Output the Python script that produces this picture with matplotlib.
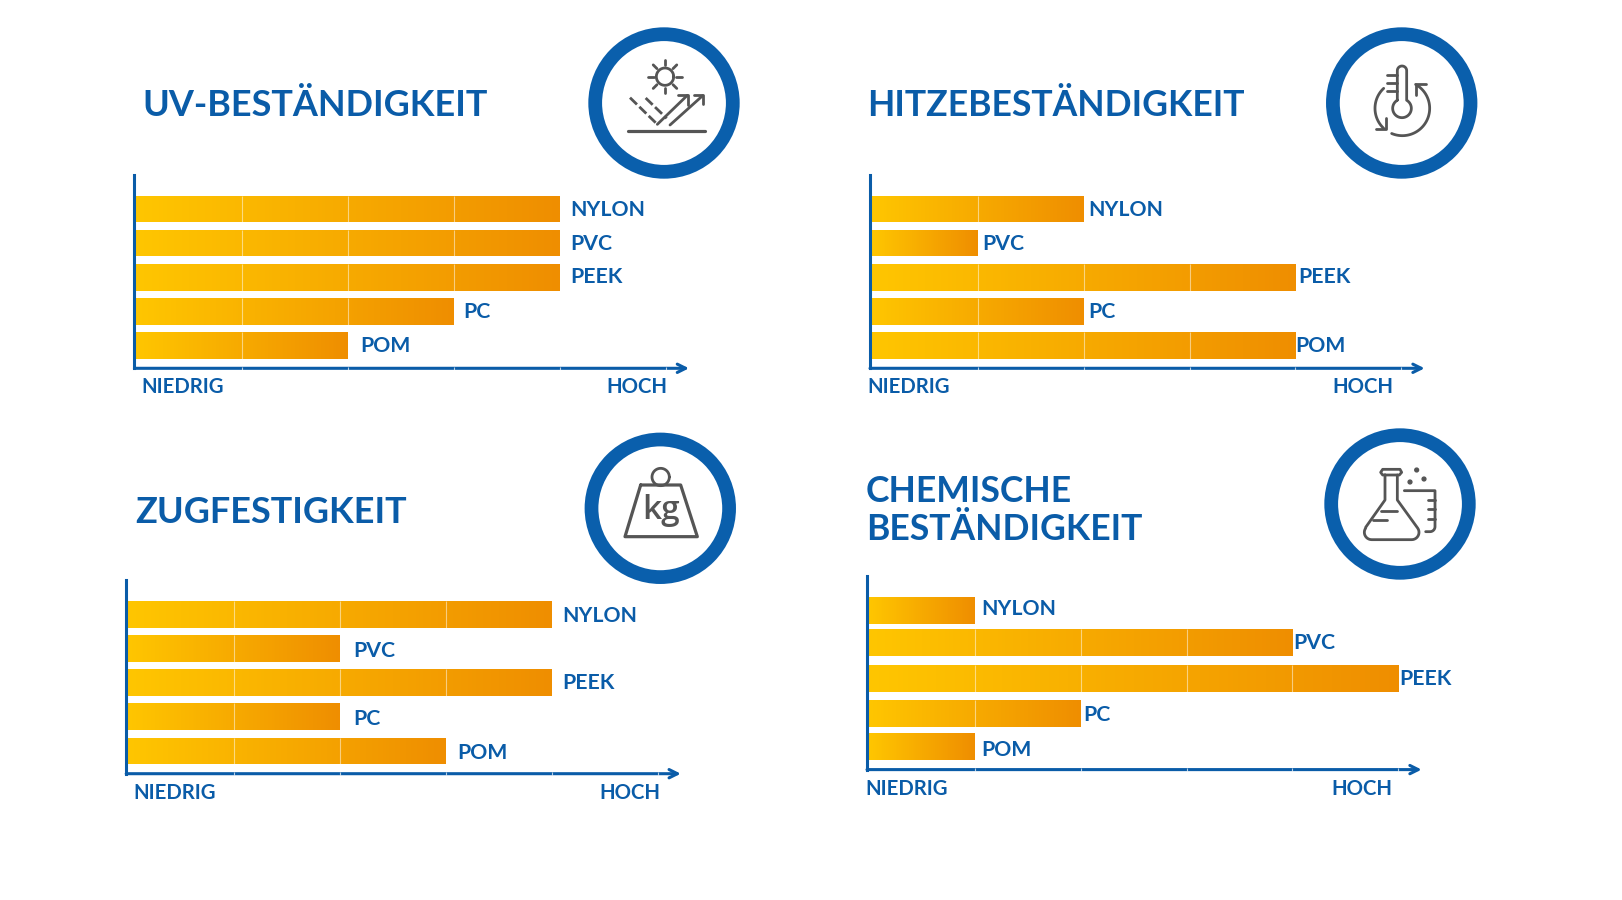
import numpy as np
import matplotlib
matplotlib.use('Agg')
import matplotlib.pyplot as plt
from matplotlib.colors import LinearSegmentedColormap
from matplotlib.patches import Circle

plt.rcParams['font.family'] = ['Lato', 'DejaVu Sans']

materials = ['NYLON', 'PVC', 'PEEK', 'PC', 'POM']
uv_values = [4, 4, 4, 3, 2]
heat_values = [2, 1, 4, 2, 4]
tensile_values = [4, 2, 4, 2, 3]
chem_values = [1, 4, 5, 2, 1]

titles = ['UV-BESTÄNDIGKEIT', 'HITZEBESTÄNDIGKEIT', 'ZUGFESTIGKEIT', 'CHEMISCHE\nBESTÄNDIGKEIT']
low_label = 'NIEDRIG'
high_label = 'HOCH'

BLUE = '#0a5ca8'
GRAY = '#555555'
W, H = 1622, 900
bar_cmap = LinearSegmentedColormap.from_list('bar', ['#ffc600', '#ef8e00'])
ramp = np.linspace(0, 1, 256).reshape(1, -1)

fig = plt.figure(figsize=(W / 100, H / 100), dpi=100, facecolor='white')


def panel(values, axis_x, base_y, label_pads, low_dx, high_dx, row_shift=(0, 0, 0, 0, 0), label_dy=(1, 1, 0, 1, 1)):
    # axes spans axis line to arrow tip, in pixels
    width, height = 554.6, 193.4
    ax = fig.add_axes([axis_x / W, 1 - base_y / H, width / W, height / H])
    ax.patch.set_alpha(0)
    y = np.arange(len(materials)) + np.array(row_shift)
    bars = ax.barh(y, values, height=0.78, color='none')
    for bar in bars:
        im = ax.imshow(ramp, cmap=bar_cmap, aspect='auto', vmin=0, vmax=1,
                       extent=(0, bar.get_width(), bar.get_y() + bar.get_height(), bar.get_y()))
        im.set_clip_path(bar)
    for i, v in enumerate(values):
        ax.vlines(np.arange(1, v), y[i] - 0.39, y[i] + 0.39, color='white', lw=0.8, alpha=0.5)
        ax.annotate(materials[i], xy=(v, y[i]), xytext=(label_pads[i], -label_dy[i]), textcoords='offset pixels',
                    color=BLUE, fontsize=15.3, fontweight='bold', va='center', ha='left')
    ax.set_xlim(-0.019, 5.22)
    ax.set_ylim(4.67, -1.0)
    ax.set_xticks([])
    ax.set_yticks([])
    for side in ['top', 'right', 'bottom']:
        ax.spines[side].set_visible(False)
    ax.spines['left'].set_color(BLUE)
    ax.spines['left'].set_linewidth(2.2)
    ax.annotate('', xy=(1, 0), xytext=(0, 0), xycoords='axes fraction', textcoords='axes fraction',
                arrowprops=dict(arrowstyle='->', color=BLUE, lw=2.2, shrinkA=0, shrinkB=0, mutation_scale=15))
    ax.vlines(np.arange(1, 6), 4.62, 4.72, color='white', lw=0.8, alpha=0.7, clip_on=False, zorder=5)
    over.text(axis_x + low_dx, base_y + 19, low_label, color=BLUE, fontsize=14.7,
              fontweight='bold', va='center', ha='left')
    over.text(axis_x + high_dx, base_y + 19, high_label, color=BLUE, fontsize=14.7,
              fontweight='bold', va='center', ha='right')
    return ax


over = fig.add_axes([0, 0, 1, 1], zorder=3)
over.set_xlim(0, W)
over.set_ylim(H, 0)
over.axis('off')
over.patch.set_alpha(0)

panel(uv_values, 134.4, 368.3, [10, 10, 10, 9, 12], 7, 533)
panel(heat_values, 870, 368.3, [5, 4, 3, 5, 0], -3, 523)
panel(tensile_values, 126.2, 773.7, [11, 13, 11, 13, 11], 7, 534, label_dy=(2, 2, 0, 2, 2))
panel(chem_values, 867, 769.6, [6, 1, 1, 3, 6], -2, 525,
      row_shift=(0, -0.06, 0, 0.03, 0), label_dy=(-1, 1, 0, 1, 3))

over.text(142.7, 106, titles[0], color=BLUE, fontsize=25.9, fontweight='bold', va='center')
over.text(867, 106, titles[1], color=BLUE, fontsize=25.6, fontweight='bold', va='center')
over.text(135.5, 512.5, titles[2], color=BLUE, fontsize=25.9, fontweight='bold', va='center')
over.text(866, 510.5, titles[3], color=BLUE, fontsize=25.6, fontweight='bold', va='center', linespacing=1.2)


def ring(cx, cy):
    over.add_patch(Circle((cx, cy), 68.8, fill=False, ec='#0a5fac', lw=9.9))


def line(ox, oy, pts, **kw):
    pts = np.array(pts, dtype=float)
    kw.setdefault('lw', 2.0)
    over.plot(ox + pts[:, 0] / 3, oy + pts[:, 1] / 3, color=GRAY, solid_capstyle='round',
              solid_joinstyle='round', **kw)


def arc(cx, cy, r, a0, a1, n=60):
    a = np.radians(np.linspace(a0, a1, n))
    return np.column_stack([cx + r * np.cos(a), cy + r * np.sin(a)])


# sun and reflected rays
ring(664, 103)
ox, oy = 570, 10
line(ox, oy, arc(285, 200, 26, 0, 360))
for a in np.arange(0, 360, 45):
    r = np.radians(a)
    line(ox, oy, [(285 + 34 * np.cos(r), 200 + 34 * np.sin(r)), (285 + 50 * np.cos(r), 200 + 50 * np.sin(r))])
line(ox, oy, [(180, 263), (262, 343)], ls=(0, (3.5, 1.2)))
line(ox, oy, [(227, 264), (290, 325)], ls=(0, (3.5, 1.2)))
line(ox, oy, [(262, 343), (352, 256)])
line(ox, oy, [(325, 255), (354, 255), (354, 285)])
line(ox, oy, [(300, 345), (398, 257)])
line(ox, oy, [(372, 255), (400, 255), (400, 282)])
line(ox, oy, [(175, 362), (405, 362)], lw=2.3)

# thermometer
ring(1401.7, 103)
ox, oy = 1310, 10
tube = np.vstack([[(262, 270)], arc(276, 182, 14, 180, 360, 20), [(290, 270)],
                  arc(276, 295, 28, -60, 240, 50), [(262, 270)]])
line(ox, oy, tube)
for ty in [195, 218, 242]:
    line(ox, oy, [(232, ty), (262, ty)])
line(ox, oy, arc(277, 295, 82, 227, 133))
line(ox, oy, [(228, 325), (228, 358), (197, 358)])
line(ox, oy, arc(277, 295, 82, 113, -61))
line(ox, oy, [(347, 222), (317, 222), (317, 255)])

# weight
ring(660.3, 508.3)
ox, oy = 570, 420
line(ox, oy, arc(272, 171, 26, 0, 360))
line(ox, oy, [(212, 195), (332, 195), (382, 350), (165, 350), (212, 195)], lw=2.3)
over.text(ox + 272 / 3, oy + 272 / 3, 'kg', color=GRAY, fontsize=24, family='Open Sans', fontweight='semibold',
          ha='center', va='center')

# flask and beaker
ring(1400, 504)
ox, oy = 1310, 420
line(ox, oy, [(225, 165), (218, 165), (212, 157), (218, 148), (270, 148), (275, 157), (268, 165), (225, 165)])
flask = np.vstack([[(225, 165), (225, 240), (167, 322)], arc(185, 337, 22, 215, 90, 12),
                   [(305, 359)], arc(305, 337, 22, 90, -35, 12), [(262, 240), (262, 165)]])
line(ox, oy, flask)
line(ox, oy, [(212, 272), (262, 272)])
line(ox, oy, [(188, 300), (232, 300)])
line(ox, oy, np.vstack([[(283, 212), (375, 212), (375, 320)], arc(360, 320, 15, 0, 90, 10), [(347, 335)]]))
for ty in [240, 268, 296]:
    line(ox, oy, [(353, ty), (375, ty)])
for dx, dy in [(320, 150), (342, 177), (300, 186)]:
    over.add_patch(Circle((ox + dx / 3, oy + dy / 3), 1.9, color=GRAY))

fig.savefig('out.png', dpi=100)
